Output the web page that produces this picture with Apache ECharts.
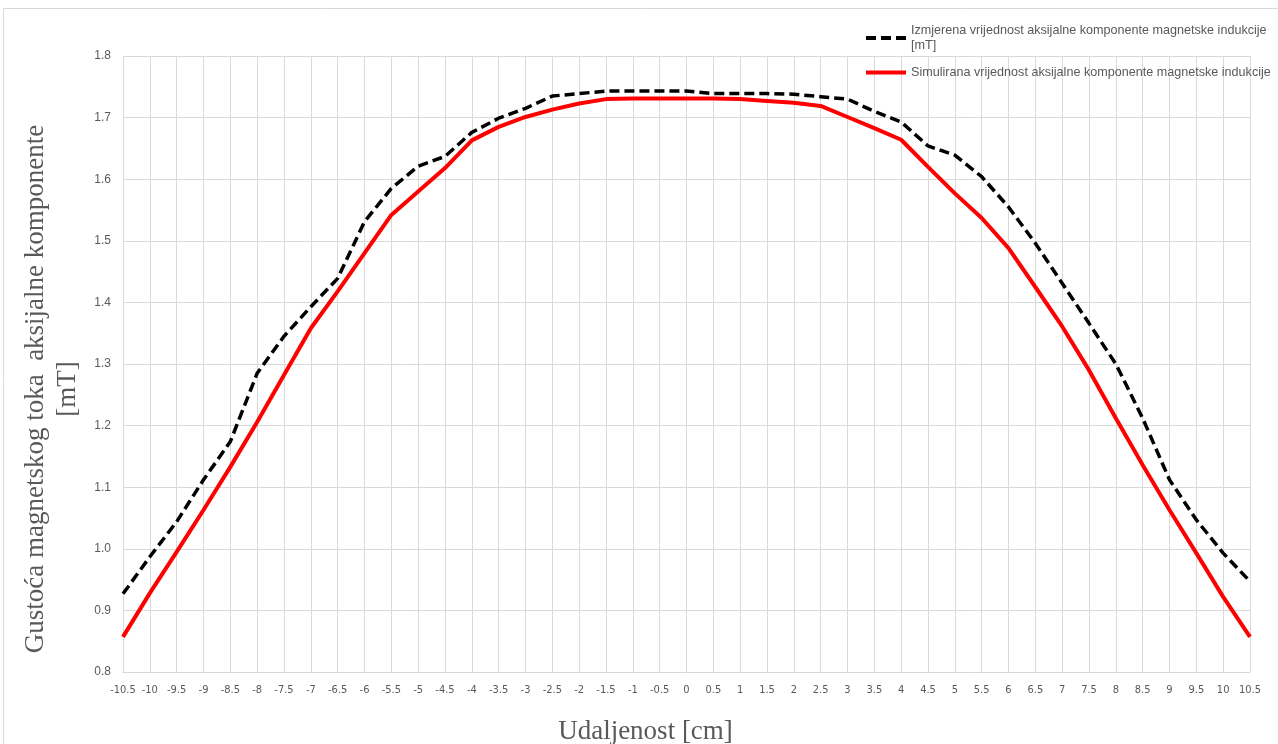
<!DOCTYPE html>
<html><head><meta charset="utf-8">
<script src="https://cdn.jsdelivr.net/npm/echarts@6/dist/echarts.min.js"></script>
<style>html,body{margin:0;padding:0;background:#fff}#c{width:1278px;height:744px}</style>
</head><body><div id="c"></div>
<script>
const categories = ['-10.5','-10','-9.5','-9','-8.5','-8','-7.5','-7','-6.5','-6','-5.5','-5','-4.5','-4','-3.5','-3','-2.5','-2','-1.5','-1','-0.5','0','0.5','1','1.5','2','2.5','3','3.5','4','4.5','5','5.5','6','6.5','7','7.5','8','8.5','9','9.5','10','10.5'];
const measured = [0.927,0.987,1.044,1.112,1.174,1.285,1.345,1.393,1.439,1.531,1.585,1.621,1.637,1.676,1.699,1.715,1.735,1.739,1.743,1.743,1.743,1.743,1.739,1.739,1.739,1.738,1.734,1.730,1.710,1.693,1.654,1.639,1.604,1.555,1.496,1.431,1.366,1.300,1.212,1.112,1.047,0.993,0.947];
const simulated = [0.857,0.928,0.995,1.063,1.133,1.206,1.282,1.358,1.418,1.480,1.542,1.580,1.618,1.663,1.685,1.701,1.713,1.723,1.730,1.731,1.731,1.731,1.731,1.730,1.727,1.724,1.719,1.701,1.683,1.664,1.620,1.577,1.537,1.488,1.425,1.361,1.290,1.212,1.136,1.063,0.993,0.922,0.857];
const seriesNames = ['Izmjerena vrijednost aksijalne komponente magnetske indukcije [mT]','Simulirana vrijednost aksijalne komponente magnetske indukcije'];
const yTicks = {min:0.8, max:1.8, interval:0.1};

const chart = echarts.init(document.getElementById('c'), null, {renderer:'canvas'});
chart.setOption({
  animation:false,
  backgroundColor:'#fff',
  graphic:[{type:'rect',shape:{x:3.5,y:8.5,width:1290,height:760},style:{fill:'none',stroke:'#d9d9d9',lineWidth:1},silent:true,z:-1}],
  grid:{left:123,right:28,top:56,bottom:72, outerBoundsMode:'none', containLabel:false},
  legend:{
    orient:'vertical', left:859, top:18, itemWidth:40, itemHeight:10, itemGap:12,
    itemStyle:{opacity:0},
    lineStyle:{width:4},
    textStyle:{color:'#595959', fontSize:12.6, fontFamily:'Liberation Sans', lineHeight:15},
    formatter:function(n){ return n===seriesNames[0] ? 'Izmjerena vrijednost aksijalne komponente magnetske indukcije\n[mT]' : n; },
    data:seriesNames
  },
  xAxis:{
    type:'category', data:categories, boundaryGap:false,
    axisLine:{show:true, lineStyle:{color:'#d9d9d9', width:1}},
    axisTick:{show:false},
    axisLabel:{interval:0, color:'#595959', fontSize:11, fontFamily:'DejaVu Sans Condensed, Liberation Sans, sans-serif', margin:13},
    splitLine:{show:true, interval:0, lineStyle:{color:'#d9d9d9', width:1}},
    name:'Udaljenost [cm]', nameLocation:'middle', nameGap:46,
    nameTextStyle:{color:'#595959', fontSize:27, fontFamily:'Liberation Serif', padding:[0,82,0,0]}
  },
  yAxis:{
    type:'value', min:yTicks.min, max:yTicks.max, interval:yTicks.interval,
    axisLine:{show:false}, axisTick:{show:false},
    axisLabel:{color:'#595959', fontSize:12, fontFamily:'Liberation Sans', margin:12, formatter:v=>v.toFixed(1)},
    splitLine:{show:true, lineStyle:{color:'#d9d9d9', width:1}},
    name:'Gustoća magnetskog toka  aksijalne komponente\n[mT]', nameLocation:'middle', nameGap:31, nameRotate:90,
    nameTextStyle:{color:'#595959', fontSize:27, fontFamily:'Liberation Serif', lineHeight:32, padding:[0,50,0,0]}
  },
  series:[
    {name:seriesNames[0], type:'line', data:measured, symbol:'none', z:3,
     lineStyle:{color:'#000', width:3.5, type:[10,5]}, itemStyle:{color:'#000'}},
    {name:seriesNames[1], type:'line', data:simulated, symbol:'none', z:2,
     lineStyle:{color:'#ff0000', width:4}, itemStyle:{color:'#ff0000'}}
  ]
});
</script></body></html>
